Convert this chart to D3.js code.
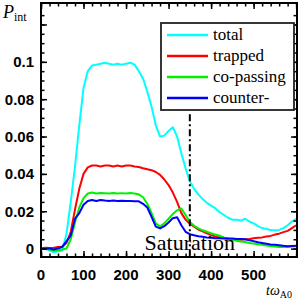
<!DOCTYPE html>
<html>
<head>
<meta charset="utf-8">
<script src="https://cdn.jsdelivr.net/npm/d3@7"></script>
<style>
  body { margin: 0; background: #fff; }
  svg { display: block; }
  .serif { font-family: "Liberation Serif", "DejaVu Serif", "Times New Roman", serif; }
  .sans { font-family: "Liberation Sans", Arial, Helvetica, sans-serif; font-weight: bold; }
</style>
</head>
<body>
<script>
// Sample data (time in units of 1/omega_A0)
const times = d3.range(0, 601, 10);

const total = [0, 0, -0.001, -0.002, -0.0015, -0.001, 0.008, 0.025, 0.044, 0.066,
  0.086, 0.095, 0.098, 0.0985, 0.099, 0.0995, 0.099, 0.0985, 0.099, 0.0985,
  0.099, 0.0995, 0.0985, 0.095, 0.091, 0.084, 0.076, 0.066, 0.060, 0.0605,
  0.063, 0.065, 0.060, 0.051, 0.043, 0.036, 0.032, 0.029, 0.0265, 0.0245,
  0.023, 0.0215, 0.0195, 0.018, 0.0165, 0.0155, 0.0155, 0.015, 0.016, 0.0145,
  0.0135, 0.012, 0.011, 0.0105, 0.010, 0.0098, 0.010, 0.011, 0.0125, 0.0145, 0.016];

const trapped = [0, 0.0005, 0.0003, 0.0005, 0.0008, 0.001, 0.003, 0.009, 0.021, 0.032,
  0.040, 0.0435, 0.0445, 0.0445, 0.044, 0.0445, 0.0445, 0.044, 0.0445, 0.044,
  0.0445, 0.0445, 0.044, 0.0437, 0.043, 0.0425, 0.042, 0.041, 0.0395, 0.037,
  0.034, 0.030, 0.025, 0.019, 0.0155, 0.0133, 0.0118, 0.0102, 0.0092, 0.0082,
  0.0072, 0.0065, 0.006, 0.0057, 0.0053, 0.005, 0.005, 0.0048, 0.005, 0.0052,
  0.0055, 0.0058, 0.006, 0.0065, 0.0068, 0.0075, 0.008, 0.0088, 0.0095, 0.011, 0.0125];

const coPassing = [0, 0, -0.0005, -0.001, -0.001, -0.0005, 0, 0.005, 0.014, 0.022,
  0.027, 0.0295, 0.030, 0.0295, 0.0298, 0.0297, 0.0295, 0.0298, 0.0295, 0.0297,
  0.0295, 0.0298, 0.0295, 0.029, 0.0275, 0.024, 0.019, 0.0135, 0.0118, 0.0135,
  0.016, 0.0185, 0.0205, 0.0215, 0.018, 0.0142, 0.0122, 0.0108, 0.0098, 0.009,
  0.0082, 0.0075, 0.0069, 0.006, 0.0053, 0.0047, 0.0042, 0.0038, 0.0035, 0.003,
  0.0027, 0.0023, 0.002, 0.0017, 0.0014, 0.0011, 0.0009, 0.0008, 0.0009, 0.0011, 0.0013];

const counter = [0, 0, 0, -0.0005, 0, 0.001, 0.004, 0.007, 0.016, 0.019,
  0.0235, 0.0255, 0.026, 0.0255, 0.026, 0.0257, 0.0255, 0.0257, 0.0255, 0.0256,
  0.0255, 0.0255, 0.0253, 0.0253, 0.024, 0.022, 0.017, 0.0118, 0.0108, 0.012,
  0.014, 0.0163, 0.0168, 0.0125, 0.009, 0.0077, 0.0071, 0.0066, 0.0063, 0.006,
  0.0058, 0.0056, 0.0055, 0.0054, 0.0054, 0.0054, 0.0052, 0.0051, 0.005, 0.0045,
  0.004, 0.0034, 0.003, 0.0026, 0.0022, 0.002, 0.0018, 0.0015, 0.0013, 0.0014, 0.0015];

const seriesNames = ['total', 'trapped', 'co-passing', 'counter-'];
const seriesColors = ['#00ffff', '#ff0000', '#00f000', '#0000ff'];
const seriesValues = [total, trapped, coPassing, counter];

const xTickLabels = [0, 100, 200, 300, 400, 500];
const yTickLabels = [0, 0.02, 0.04, 0.06, 0.08, 0.1];
const saturationTime = 350;

// Set up the SVG container
const W = 300, H = 300;
const margin = { top: 3, right: 3, bottom: 43, left: 41 };
const width = W - margin.left - margin.right;
const height = H - margin.top - margin.bottom;

const svg = d3.select('body').append('svg')
    .attr('width', W)
    .attr('height', H);

const g = svg.append('g')
    .attr('transform', `translate(${margin.left},${margin.top})`);

// Create scales
const xScale = d3.scaleLinear().domain([0, 602]).range([0, width]);
const yScale = d3.scaleLinear().domain([-0.0045, 0.1315]).range([height, 0]);

// Draw lines
const line = d3.line()
    .x((d, i) => xScale(times[i]))
    .y(d => yScale(d));

seriesValues.forEach((vals, i) => {
    g.append('path')
        .datum(vals)
        .attr('d', line)
        .attr('fill', 'none')
        .attr('stroke', seriesColors[i])
        .attr('stroke-width', 2)
        .attr('stroke-linejoin', 'round');
});

// Saturation marker (dash-dot)
g.append('line')
    .attr('x1', xScale(saturationTime)).attr('x2', xScale(saturationTime))
    .attr('y1', yScale(0.072)).attr('y2', height)
    .attr('stroke', '#000')
    .attr('stroke-width', 2)
    .attr('stroke-dasharray', '7,3,2,3');

g.append('text')
    .attr('class', 'serif')
    .attr('x', xScale(saturationTime))
    .attr('y', height - 7)
    .attr('text-anchor', 'middle')
    .attr('font-size', 22)
    .text('Saturation');

// Ticks on all four sides, pointing inward
function ticks(axisFn, values, size, transform) {
    g.append('g')
        .attr('transform', transform)
        .call(axisFn.tickValues(values).tickSize(size).tickFormat(''))
        .call(a => a.select('.domain').remove())
        .call(a => a.selectAll('line').attr('stroke-width', 1.5));
}
const xMinor = d3.range(0, 601, 20);
const xMajor = d3.range(0, 601, 100);
const yMinor = d3.range(0, 26).map(i => +(i * 0.005).toFixed(3));
const yMajor = d3.range(0, 7).map(i => +(i * 0.02).toFixed(2));

ticks(d3.axisBottom(xScale), xMinor, -3.5, `translate(0,${height})`);
ticks(d3.axisBottom(xScale), xMajor, -6, `translate(0,${height})`);
ticks(d3.axisTop(xScale), xMinor, -3.5, 'translate(0,0)');
ticks(d3.axisTop(xScale), xMajor, -6, 'translate(0,0)');
ticks(d3.axisLeft(yScale), yMinor, -3.5, 'translate(0,0)');
ticks(d3.axisLeft(yScale), yMajor, -6, 'translate(0,0)');
ticks(d3.axisRight(yScale), yMinor, -3.5, `translate(${width},0)`);
ticks(d3.axisRight(yScale), yMajor, -6, `translate(${width},0)`);

// Frame
g.append('rect')
    .attr('width', width).attr('height', height)
    .attr('fill', 'none').attr('stroke', '#000').attr('stroke-width', 2);

// Tick labels
g.selectAll('.xlab').data(xTickLabels).enter().append('text')
    .attr('class', 'sans')
    .attr('x', d => xScale(d))
    .attr('y', height + 23)
    .attr('text-anchor', 'middle')
    .attr('font-size', 15)
    .text(d => d);

g.selectAll('.ylab').data(yTickLabels).enter().append('text')
    .attr('class', 'sans')
    .attr('x', -7)
    .attr('y', d => yScale(d) + 5.5)
    .attr('text-anchor', 'end')
    .attr('font-size', 15)
    .text(d => d);

// Axis titles
const yTitle = svg.append('text')
    .attr('class', 'serif')
    .attr('x', 3).attr('y', 18)
    .attr('font-size', 18);
yTitle.append('tspan').attr('font-style', 'italic').text('P');
yTitle.append('tspan').attr('font-size', 12).attr('dy', 3).text('int');

const xTitle = svg.append('text')
    .attr('class', 'serif')
    .attr('x', 266).attr('y', 295)
    .attr('font-size', 14);
xTitle.append('tspan').attr('font-style', 'italic').text('tω');
xTitle.append('tspan').attr('font-size', 10).attr('dy', 3).text('A0');

// Legend
const legend = svg.append('g');
legend.append('rect')
    .attr('x', 161).attr('y', 23)
    .attr('width', 133).attr('height', 87)
    .attr('fill', '#fff')
    .attr('stroke', '#222')
    .attr('stroke-width', 1.8);

seriesNames.forEach((name, i) => {
    const yy = 35 + i * 21;
    legend.append('line')
        .attr('x1', 167).attr('x2', 208)
        .attr('y1', yy).attr('y2', yy)
        .attr('stroke', seriesColors[i])
        .attr('stroke-width', 2.5);
    legend.append('text')
        .attr('class', 'serif')
        .attr('x', 213).attr('y', yy + 5)
        .attr('font-size', 17)
        .text(name);
});
</script>
</body>
</html>
